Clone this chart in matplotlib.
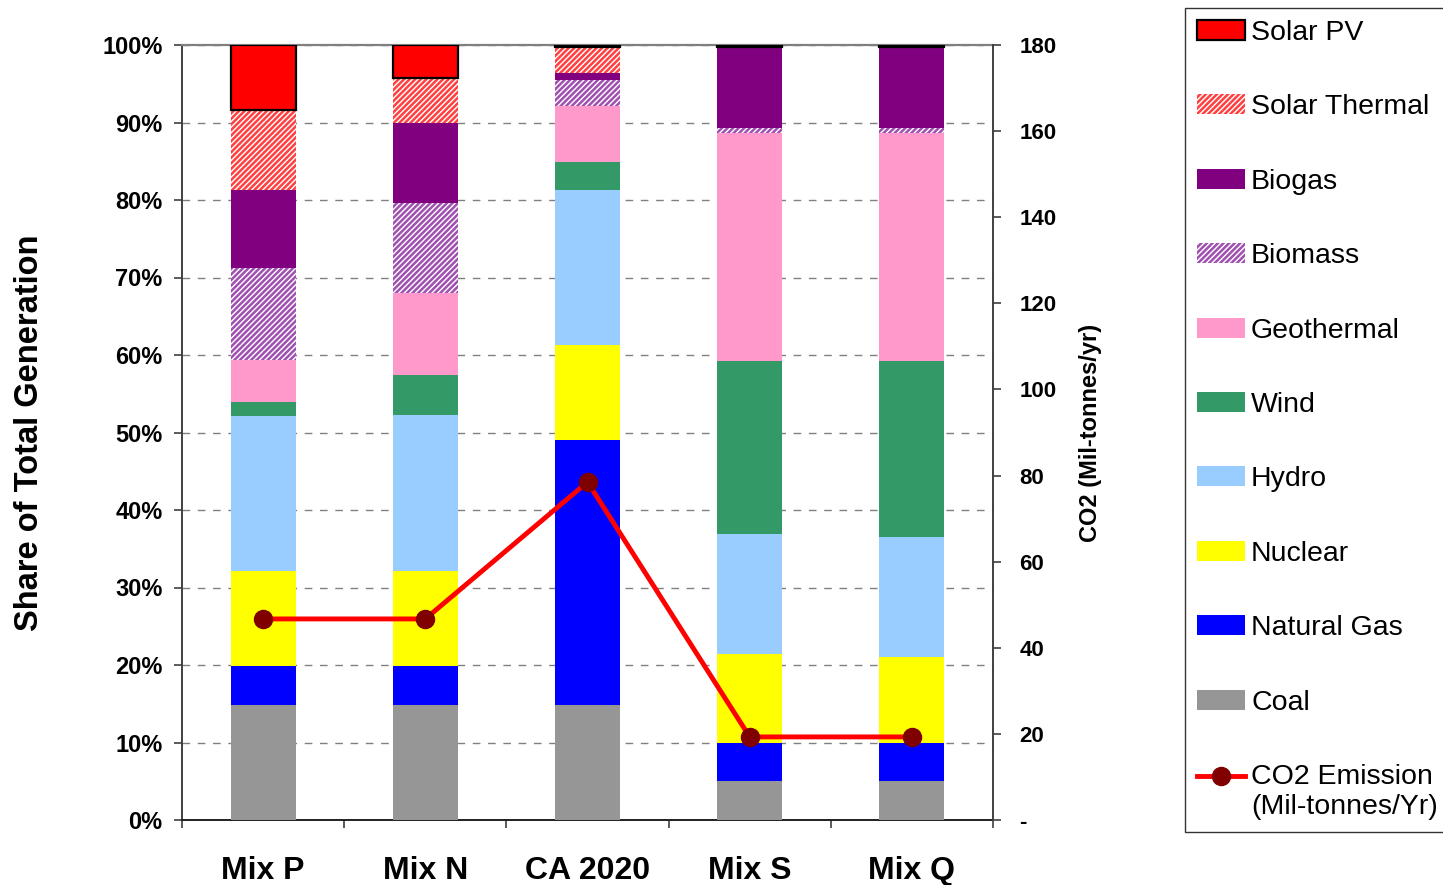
import matplotlib
matplotlib.use("Agg")
import matplotlib.pyplot as plt
import numpy as np
from matplotlib.patches import Patch
from matplotlib.lines import Line2D
from matplotlib.ticker import FixedLocator, FixedFormatter
from matplotlib.legend_handler import HandlerLine2D

plt.rcParams['font.family'] = ['Liberation Sans', 'DejaVu Sans']
plt.rcParams['hatch.linewidth'] = 1.8

categories = ['Mix P', 'Mix N', 'CA 2020', 'Mix S', 'Mix Q']
coal = [14.8, 14.8, 14.8, 5.0, 5.0]
natural_gas = [5.1, 5.1, 34.2, 4.9, 4.9]
nuclear = [12.2, 12.2, 12.3, 11.5, 11.1]
hydro = [20.0, 20.2, 20.0, 15.5, 15.5]
wind = [1.8, 5.1, 3.6, 22.3, 22.7]
geothermal = [5.5, 10.6, 7.2, 29.4, 29.4]
biomass = [11.8, 11.6, 3.4, 0.7, 0.7]
biogas = [10.1, 10.3, 0.9, 10.4, 10.4]
solar_thermal = [10.3, 5.8, 3.3, 0.1, 0.1]
solar_pv = [8.4, 4.3, 0.3, 0.2, 0.2]
co2 = [46.7, 46.7, 78.5, 19.3, 19.3]

left_ticks = [0, 10, 20, 30, 40, 50, 60, 70, 80, 90, 100]
left_labels = ['0%', '10%', '20%', '30%', '40%', '50%', '60%', '70%', '80%', '90%', '100%']
right_ticks = [0, 20, 40, 60, 80, 100, 120, 140, 160, 180]
right_labels = ['-', '20', '40', '60', '80', '100', '120', '140', '160', '180']

series = [
    ('Coal', coal, dict(color='#969696', linewidth=0)),
    ('Natural Gas', natural_gas, dict(color='#0000FF', linewidth=0)),
    ('Nuclear', nuclear, dict(color='#FFFF00', linewidth=0)),
    ('Hydro', hydro, dict(color='#99CCFF', linewidth=0)),
    ('Wind', wind, dict(color='#339966', linewidth=0)),
    ('Geothermal', geothermal, dict(color='#FF99CC', linewidth=0)),
    ('Biomass', biomass, dict(facecolor='white', edgecolor='#A050B0', hatch='//////', linewidth=0)),
    ('Biogas', biogas, dict(color='#800080', linewidth=0)),
    ('Solar Thermal', solar_thermal, dict(facecolor='white', edgecolor='#FF4040', hatch='//////', linewidth=0)),
    ('Solar PV', solar_pv, dict(facecolor='#FF0000', edgecolor='black', linewidth=1.6)),
]


class FirstLineHandler(HandlerLine2D):
    def create_artists(self, legend, orig_handle, xdescent, ydescent, width, height, fontsize, trans):
        artists = super().create_artists(legend, orig_handle, xdescent, ydescent,
                                         width, height, fontsize, trans)
        off = 0.55 * fontsize
        for a in artists:
            a.set_ydata(np.asarray(a.get_ydata(), dtype=float) + off)
        return artists


fig = plt.figure(figsize=(14.43, 8.85), dpi=100)
ax = fig.add_axes([182/1443, 1-820/885, (993-182)/1443, (820-45)/885])

x = np.arange(len(categories))
bottom = np.zeros(len(categories))
for name, vals, style in series:
    ax.bar(x, vals, width=0.4, bottom=bottom, zorder=3, **style)
    bottom += np.array(vals)

ax.set_xlim(-0.5, 4.5)
ax.set_ylim(0, 100)
ax.yaxis.set_major_locator(FixedLocator(left_ticks))
ax.yaxis.set_major_formatter(FixedFormatter(left_labels))
ax.grid(axis='y', color='#808080', linestyle=(0, (5.5, 5.5)), linewidth=1.0, zorder=0)
ax.set_axisbelow(True)

ax.set_xticks(x)
ax.set_xticklabels(categories, fontsize=23, fontweight='bold')
ax.tick_params(axis='x', which='major', length=0, pad=26)
ax.set_xticks(np.arange(-0.5, 5.0, 1.0), minor=True)
ax.tick_params(axis='x', which='minor', length=6, width=1.2, direction='out', color='#404040')
ax.tick_params(axis='y', length=6, width=1.2, direction='out', pad=8, labelsize=17, color='#404040')
for lbl in ax.get_yticklabels():
    lbl.set_fontweight('bold')

ax.spines['top'].set_color('#808080')
ax.spines['top'].set_linewidth(1.6)
ax.spines['left'].set_color('#404040')
ax.spines['left'].set_linewidth(1.4)
ax.spines['bottom'].set_color('#202020')
ax.spines['bottom'].set_linewidth(1.4)
ax.spines['right'].set_visible(False)

ax.set_ylabel('Share of Total Generation', fontsize=23.5, fontweight='bold', labelpad=41)

ax2 = ax.twinx()
ax2.set_ylim(0, 180)
ax2.yaxis.set_major_locator(FixedLocator(right_ticks))
ax2.yaxis.set_major_formatter(FixedFormatter(right_labels))
ax2.tick_params(axis='y', length=6, width=1.2, direction='out', pad=13, labelsize=16, color='#404040')
for lbl in ax2.get_yticklabels():
    lbl.set_fontweight('bold')
ax2.spines['right'].set_color('#404040')
ax2.spines['right'].set_linewidth(1.4)
ax2.spines['top'].set_visible(False)
ax2.spines['left'].set_visible(False)
ax2.spines['bottom'].set_visible(False)
ax2.plot(x, co2, color='#FF0000', linewidth=3.5, marker='o', markersize=13,
         markerfacecolor='#800000', markeredgecolor='#800000', zorder=5)
ax2.set_ylabel('CO2 (Mil-tonnes/yr)', fontsize=17, fontweight='bold', labelpad=16)

handles = []
labels = []
for name, vals, style in reversed(series):
    handles.append(Patch(**style))
    labels.append(name)
co2_handle = Line2D([], [], color='#FF0000', linewidth=3.5, marker='o', markersize=13,
                    markerfacecolor='#800000', markeredgecolor='#800000')
handles.append(co2_handle)
labels.append('CO2 Emission\n(Mil-tonnes/Yr)')

leg = fig.legend(handles, labels, loc='upper left', bbox_to_anchor=(1185/1443, 1-8/885),
                 fontsize=20.5, frameon=True, fancybox=False, edgecolor='black',
                 labelspacing=1.70, handlelength=1.7, handletextpad=0.2, borderpad=0.42,
                 borderaxespad=0, handler_map={co2_handle: FirstLineHandler()})
leg.get_frame().set_linewidth(1.0)

fig.savefig('out.png', dpi=100)
